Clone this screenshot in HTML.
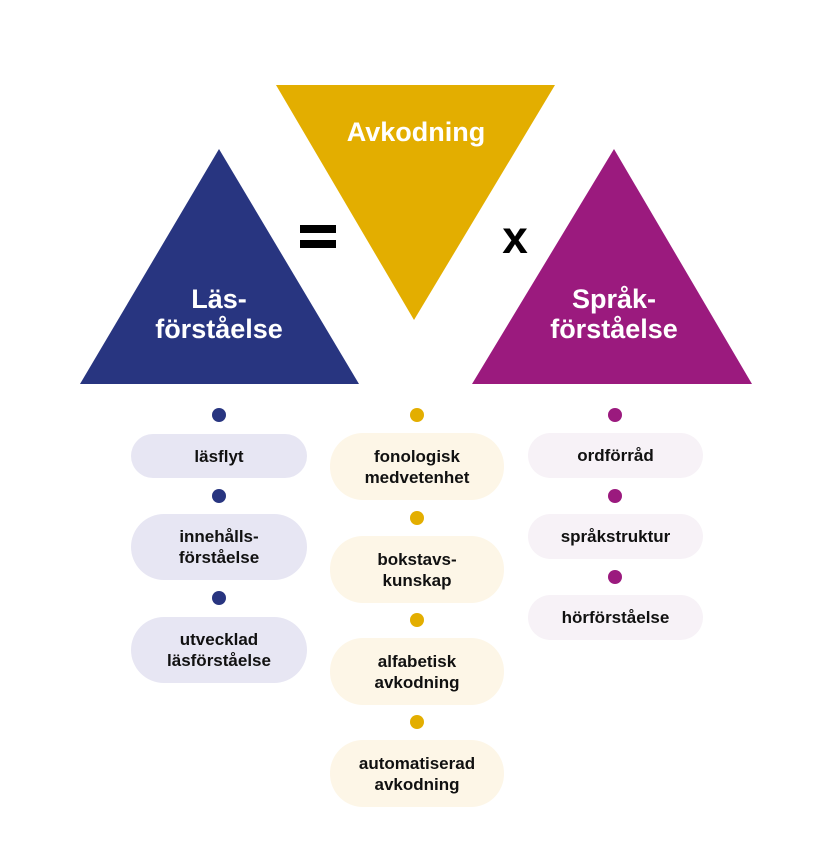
<!DOCTYPE html><html><head><style>
body{margin:0;width:834px;height:855px;background:#fff;position:relative;font-family:"Liberation Sans",sans-serif;overflow:hidden}
.p{position:absolute;border-radius:24px;display:flex;align-items:center;justify-content:center;text-align:center;font-weight:bold;font-size:17px;line-height:21px;color:#111}
.d{position:absolute;width:14px;height:14px;border-radius:50%}
.L{background:#e7e6f3}.M{background:#fdf6e7}.R{background:#f7f2f7}
.bl{background:#283580}.ye{background:#e3ae00}.pu{background:#9b1a7e}
</style></head><body>
<svg width="834" height="855" style="position:absolute;left:0;top:0">
<polygon points="219,149 359,384 80,384" fill="#283580"/>
<polygon points="276,85 555,85 414,320" fill="#e3ae00"/>
<polygon points="614,149 752,384 472,384" fill="#9b1a7e"/>
<rect x="300" y="225" width="36" height="8" fill="#000"/>
<rect x="300" y="240" width="36" height="8" fill="#000"/>
<g font-family="Liberation Sans" font-weight="bold" text-anchor="middle" fill="#fff" font-size="27">
<text x="416" y="141">Avkodning</text>
<text x="219" y="308">Läs-</text><text x="219" y="338">förståelse</text>
<text x="614" y="308">Språk-</text><text x="614" y="338">förståelse</text>
</g>
<text x="515" y="253" font-family="Liberation Sans" font-weight="bold" font-size="46" text-anchor="middle">x</text>
</svg>
<div class="d bl" style="left:212px;top:408px"></div>
<div class="d bl" style="left:212px;top:489px"></div>
<div class="d bl" style="left:212px;top:591px"></div>
<div class="p L" style="left:131px;top:434px;width:176px;height:44px">läsflyt</div>
<div class="p L" style="left:131px;top:514px;width:176px;height:66px;border-radius:33px">innehålls-<br>förståelse</div>
<div class="p L" style="left:131px;top:617px;width:176px;height:66px;border-radius:33px">utvecklad<br>läsförståelse</div>
<div class="d ye" style="left:410px;top:408px"></div>
<div class="d ye" style="left:410px;top:511px"></div>
<div class="d ye" style="left:410px;top:613px"></div>
<div class="d ye" style="left:410px;top:715px"></div>
<div class="p M" style="left:330px;top:433px;width:174px;height:67px;border-radius:33px">fonologisk<br>medvetenhet</div>
<div class="p M" style="left:330px;top:536px;width:174px;height:67px;border-radius:33px">bokstavs-<br>kunskap</div>
<div class="p M" style="left:330px;top:638px;width:174px;height:67px;border-radius:33px">alfabetisk<br>avkodning</div>
<div class="p M" style="left:330px;top:740px;width:174px;height:67px;border-radius:33px">automatiserad<br>avkodning</div>
<div class="d pu" style="left:608px;top:408px"></div>
<div class="d pu" style="left:608px;top:489px"></div>
<div class="d pu" style="left:608px;top:570px"></div>
<div class="p R" style="left:528px;top:433px;width:175px;height:45px">ordförråd</div>
<div class="p R" style="left:528px;top:514px;width:175px;height:45px">språkstruktur</div>
<div class="p R" style="left:528px;top:595px;width:175px;height:45px">hörförståelse</div>
</body></html>
